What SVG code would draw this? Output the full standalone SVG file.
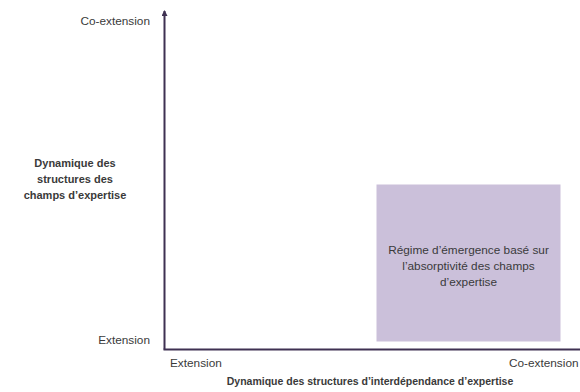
<svg xmlns="http://www.w3.org/2000/svg" width="580" height="392" viewBox="0 0 580 392">
<style>
text{font-family:"Liberation Sans",Arial,sans-serif;font-size:11.8px;fill:#3a3a3a}
.b{font-weight:bold;font-size:11px}
.bt{font-weight:bold;font-size:10.5px}
.ax{stroke:#3f3152;stroke-width:2;fill:none}
</style>
<defs>
<marker id="ah" markerWidth="6" markerHeight="6" refX="5" refY="3" orient="auto" markerUnits="userSpaceOnUse">
<path d="M0,0 L6,3 L0,6 Z" fill="#3f3152"/>
</marker>
</defs>
<rect width="580" height="392" fill="#fff"/>
<g id="connectors">
<path class="ax" d="M164.5,349.5 V11" marker-end="url(#ah)"/>
<path class="ax" d="M163.5,349.5 H580"/>
</g>
<g id="regime">
<rect x="376.5" y="184.5" width="184" height="157" fill="#cbc0da"/>
<text x="468.5" y="254" text-anchor="middle">Régime d’émergence basé sur</text>
<text x="468.5" y="270" text-anchor="middle">l’absorptivité des champs</text>
<text x="468.5" y="286" text-anchor="middle">d’expertise</text>
</g>
<g id="y-labels">
<text x="150" y="25" text-anchor="end">Co-extension</text>
<text x="150" y="344" text-anchor="end">Extension</text>
<text class="b" x="75" y="167" text-anchor="middle">Dynamique des</text>
<text class="b" x="75" y="183" text-anchor="middle">structures des</text>
<text class="b" x="75" y="199" text-anchor="middle">champs d’expertise</text>
</g>
<g id="x-labels">
<text x="170" y="367">Extension</text>
<text x="509" y="367">Co-extension</text>
<text class="bt" x="370" y="385" text-anchor="middle">Dynamique des structures d’interdépendance d’expertise</text>
</g>
</svg>
